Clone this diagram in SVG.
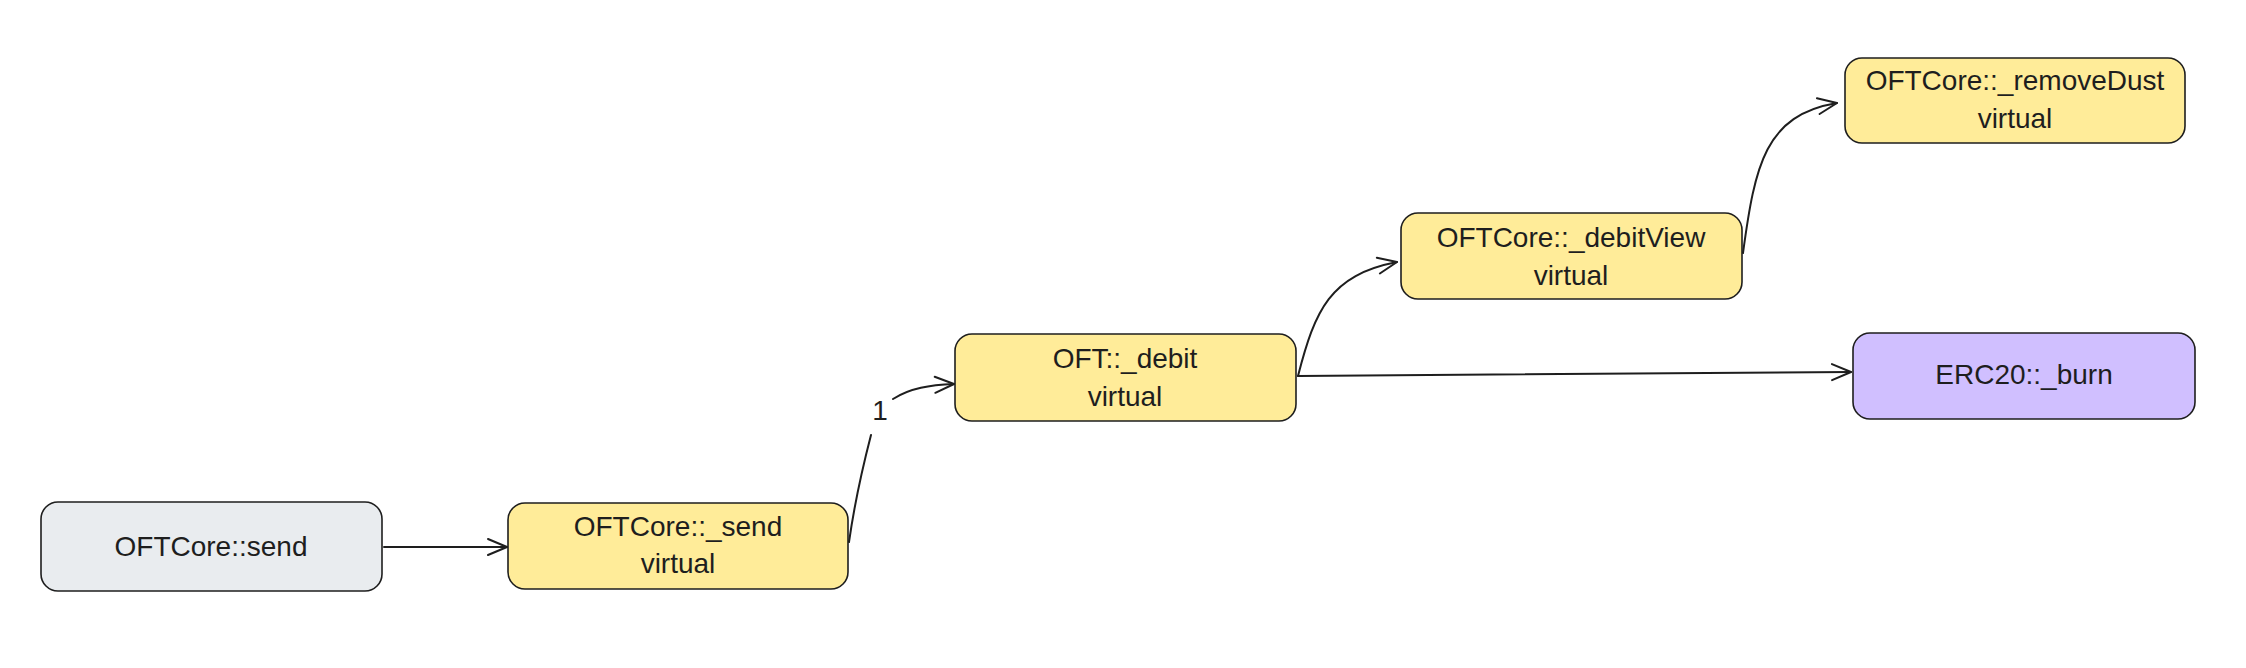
<svg xmlns="http://www.w3.org/2000/svg" width="2246" height="668" viewBox="0 0 2246 668">
  <style>
    .box { stroke: #1e1e1e; stroke-width: 1.6; }
    .gray { fill: #e9ecef; }
    .yellow { fill: #ffec99; }
    .violet { fill: #d0bfff; }
    .lbl { font-family: "Liberation Sans", Arial, sans-serif; font-size: 28px; fill: #1e1e1e; text-anchor: middle; }
    .edge { fill: none; stroke: #1e1e1e; stroke-width: 2; stroke-linecap: round; }
  </style>
  <defs>
    <marker id="arrow" viewBox="-22 -11 24 22" markerWidth="24" markerHeight="22" refX="0" refY="0" orient="auto" markerUnits="userSpaceOnUse">
      <path d="M-19,-8 L0,0 L-19,8" fill="none" stroke="#1e1e1e" stroke-width="2" stroke-linecap="round" stroke-linejoin="round"/>
    </marker>
  </defs>
  <rect width="2246" height="668" fill="#ffffff"/>

  <g id="connectors">
    <path class="edge" d="M384,547 L507,547" marker-end="url(#arrow)"/>
    <path class="edge" d="M849,542 C855,500 864,462 871,435"/>
    <path class="edge" d="M893,399 C910,388 930,385 954,384" marker-end="url(#arrow)"/>
    <text class="lbl" x="880" y="420">1</text>
    <path class="edge" d="M1298,376 C1315,310 1330,275 1397,262" marker-end="url(#arrow)"/>
    <path class="edge" d="M1743,253 C1755,165 1765,115 1837,103" marker-end="url(#arrow)"/>
    <path class="edge" d="M1298,376 L1851,372" marker-end="url(#arrow)"/>
  </g>

  <g id="node-oftcore-send">
    <rect class="box gray" x="41" y="502" width="341" height="89" rx="17"/>
    <text class="lbl" x="211" y="556">OFTCore::send</text>
  </g>
  <g id="node-oftcore-_send">
    <rect class="box yellow" x="508" y="503" width="340" height="86" rx="17"/>
    <text class="lbl" x="678" y="536">OFTCore::_send</text>
    <text class="lbl" x="678" y="573">virtual</text>
  </g>
  <g id="node-oft-_debit">
    <rect class="box yellow" x="955" y="334" width="341" height="87" rx="17"/>
    <text class="lbl" x="1125" y="368">OFT::_debit</text>
    <text class="lbl" x="1125" y="406">virtual</text>
  </g>
  <g id="node-oftcore-_debitview">
    <rect class="box yellow" x="1401" y="213" width="341" height="86" rx="17"/>
    <text class="lbl" x="1571" y="247">OFTCore::_debitView</text>
    <text class="lbl" x="1571" y="285">virtual</text>
  </g>
  <g id="node-oftcore-_removedust">
    <rect class="box yellow" x="1845" y="58" width="340" height="85" rx="17"/>
    <text class="lbl" x="2015" y="90">OFTCore::_removeDust</text>
    <text class="lbl" x="2015" y="128">virtual</text>
  </g>
  <g id="node-erc20-_burn">
    <rect class="box violet" x="1853" y="333" width="342" height="86" rx="17"/>
    <text class="lbl" x="2024" y="384">ERC20::_burn</text>
  </g>
</svg>
